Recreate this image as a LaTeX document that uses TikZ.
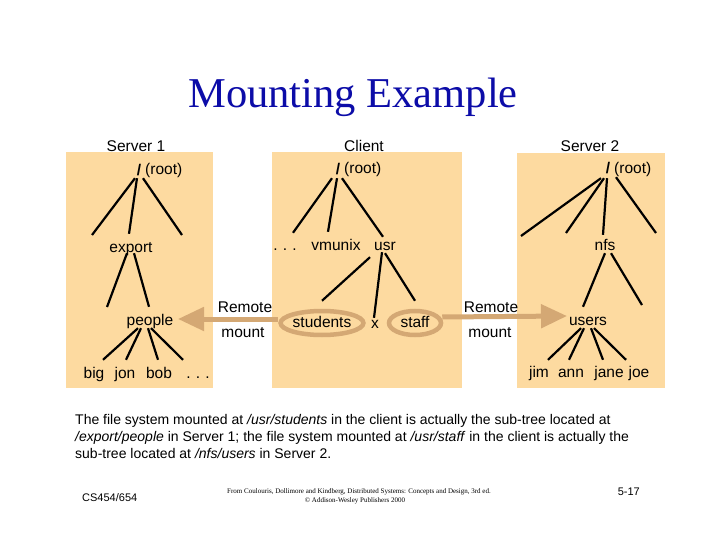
\documentclass[tikz,border=0pt]{standalone}
\usepackage{fontspec}
\setmainfont{Liberation Serif}
\setsansfont{Liberation Sans}
\usetikzlibrary{arrows.meta,calc,shapes.geometric}
\definecolor{boxfill}{RGB}{253,218,160}
\definecolor{tanc}{RGB}{212,168,116}
\definecolor{titleblue}{RGB}{12,12,168}
\begin{document}
\begin{tikzpicture}[x=1pt,y=-1pt,
  lbl/.style={font=\sffamily\fontsize{15.5}{18}\selectfont, inner sep=0pt, anchor=base, text height=11pt, text depth=3pt},
  tree/.style={line width=2.2pt, black},
  hostbox/.style={fill=boxfill, draw=none},
  mountring/.style={ellipse, draw=tanc, line width=4.5pt, inner sep=0pt, minimum height=24pt, font=\sffamily\fontsize{15.5}{18}\selectfont, text height=11pt, text depth=3pt},
  mountarrow/.style={draw=tanc, line width=5pt, -{Triangle[length=26pt,width=23pt]}},
  body/.style={font=\sffamily\fontsize{14}{17}\selectfont, inner sep=0pt, anchor=base west}]
\useasboundingbox (0,0) rectangle (720,540);
\fill[white] (0,0) rectangle (720,540);

% title
\node[font=\fontsize{42.5}{46}\selectfont, text=titleblue, inner sep=0pt, anchor=base] (title) at (353,108) {Mounting Example};

% host boxes
\fill[hostbox] (66,152) rectangle (213,388);
\fill[hostbox] (272,152) rectangle (462,388);
\fill[hostbox] (517,153) rectangle (665,388);

% ---------- Server 1 ----------
\node[lbl] (s1title) at (136,152) {Server 1};
\node[lbl] (s1slash) at (139,176) {\bfseries /};
\node[lbl, anchor=base west] (s1root) at (145,175) {(root)};
\node[lbl] (s1export) at (131,252) {export};
\node[lbl] (s1people) at (150,325) {people};
\node[lbl] (s1big) at (94,378) {big};
\node[lbl] (s1jon) at (125,378) {jon};
\node[lbl] (s1bob) at (159,378) {bob};
\node[lbl] (s1dots) at (198,378) {.\,\,.\,\,.};
\coordinate (s1c1) at (92,235);
\coordinate (s1c2) at (182,235);
\coordinate (s1c3) at (107,307);
\draw[tree] ($(s1slash.south)+(-4,-1)$) -- (s1c1);
\draw[tree] ($(s1slash.south)+(-2,-1)$) -- ($(s1export.north)+(-2,-7)$);
\draw[tree] ($(s1slash.south)+(4,-1)$) -- (s1c2);
\draw[tree] ($(s1export.south)+(-4,-2)$) -- (s1c3);
\draw[tree] ($(s1export.south)+(3,-2)$) -- ($(s1people.north)+(-1,-7)$);
\draw[tree] ($(s1people.south)+(-12,0)$) -- ($(s1big.north)+(9,-7)$);
\draw[tree] ($(s1people.south)+(-9,0)$) -- ($(s1jon.north)+(1,-7)$);
\draw[tree] ($(s1people.south)+(-2,0)$) -- ($(s1bob.north)+(-1,-7)$);
\draw[tree] ($(s1people.south)+(1,0)$) -- ($(s1dots.north)+(-15,-7)$);

% ---------- Client ----------
\node[lbl] (ctitle) at (364,152) {Client};
\node[lbl] (cslash) at (338,175) {\bfseries /};
\node[lbl, anchor=base west] (croot) at (344,174) {(root)};
\node[lbl] (cdots) at (285,250) {.\,\,.\,\,.};
\node[lbl] (cvmunix) at (336,250) {vmunix};
\node[lbl] (cusr) at (385,250) {usr};
\node[mountring, minimum width=74pt] (students) at (322,323) {students};
\node[lbl] (cx) at (375,328) {x};
\node[mountring, minimum width=52pt] (staff) at (415,323) {staff};
\draw[tree] ($(cslash.south)+(-6,0)$) -- ($(cdots.north)+(8,-6)$);
\draw[tree] ($(cslash.south)+(-1,0)$) -- ($(cvmunix.north)+(-8,-7)$);
\draw[tree] ($(cslash.south)+(4,0)$) -- ($(cusr.north)+(-2,-2)$);
\draw[tree] ($(cusr.south)+(-15,4)$) -- ($(students.north)+(0,-8)$);
\draw[tree] ($(cusr.south)+(-3,-1)$) -- ($(cx.north)+(-1,1)$);
\draw[tree] ($(cusr.south)+(0,0)$) -- ($(staff.north)+(0,-8)$);

% ---------- Server 2 ----------
\node[lbl] (s2title) at (590,152) {Server 2};
\node[lbl] (s2slash) at (608,174) {\bfseries /};
\node[lbl, anchor=base west] (s2root) at (614,174) {(root)};
\node[lbl] (s2nfs) at (605,251) {nfs};
\node[lbl] (s2users) at (588,325) {users};
\node[lbl] (s2jim) at (539,377) {jim};
\node[lbl] (s2ann) at (571,377) {ann};
\node[lbl] (s2jane) at (609,377) {jane};
\node[lbl] (s2joe) at (639,377) {joe};
\coordinate (s2c1) at (521,236);
\coordinate (s2c2) at (566,233);
\coordinate (s2c3) at (656,233);
\coordinate (s2c4) at (642,305);
\draw[tree] ($(s2slash.south)+(-7,1)$) -- (s2c1);
\draw[tree] ($(s2slash.south)+(-4,1)$) -- (s2c2);
\draw[tree] ($(s2slash.south)+(-1,1)$) -- ($(s2nfs.north)+(-2,-5)$);
\draw[tree] ($(s2slash.south)+(8,0)$) -- (s2c3);
\draw[tree] ($(s2nfs.south)+(0,-1)$) -- ($(s2users.north)+(-5,-7)$);
\draw[tree] ($(s2nfs.south)+(6,-1)$) -- (s2c4);
\draw[tree] ($(s2users.south)+(-7,0)$) -- ($(s2jim.north)+(9,-6)$);
\draw[tree] ($(s2users.south)+(-4,0)$) -- ($(s2ann.north)+(-2,-6)$);
\draw[tree] ($(s2users.south)+(3,0)$) -- ($(s2jane.north)+(-6,-6)$);
\draw[tree] ($(s2users.south)+(6,0)$) -- ($(s2joe.north)+(-13,-6)$);

% ---------- remote mounts ----------
\coordinate (tipL) at (178,319);
\coordinate (tipR) at (567,316);
\draw[mountarrow] ([yshift=4pt]students.west) -- (tipL);
\draw[mountarrow] ([yshift=6pt,xshift=-1pt]staff.east) -- (tipR);
\node[lbl] (rem1) at (245,312) {Remote};
\node[lbl] (mnt1) at (243,337) {mount};
\node[lbl] (rem2) at (491,312) {Remote};
\node[lbl] (mnt2) at (490,337) {mount};

% ---------- caption ----------
\node[body] (cap1) at (75,424) {The file system mounted at \textit{/usr/students} in the client is actually the sub-tree located at};
\node[body] (cap2) at (75,441) {\textit{/export/people} in Server 1; the file system mounted at \textit{/usr/staff} in the client is actually the};
\node[body] (cap3) at (75,458) {sub-tree located at \textit{/nfs/users} in Server 2.};

% ---------- footer ----------
\node[font=\sffamily\fontsize{11}{13}\selectfont, inner sep=0pt, anchor=base west] (course) at (82,501) {CS454/654};
\node[font=\fontsize{7}{8}\selectfont, inner sep=0pt, anchor=base] (cite1) at (359,493) {From Coulouris, Dollimore and Kindberg, Distributed Systems: Concepts and Design, 3rd ed.};
\node[font=\fontsize{7}{8}\selectfont, inner sep=0pt, anchor=base] (cite2) at (355,502) {© Addison-Wesley Publishers 2000};
\node[font=\sffamily\fontsize{11}{13}\selectfont, inner sep=0pt, anchor=base east] (page) at (640,495) {5-17};
\end{tikzpicture}
\end{document}
